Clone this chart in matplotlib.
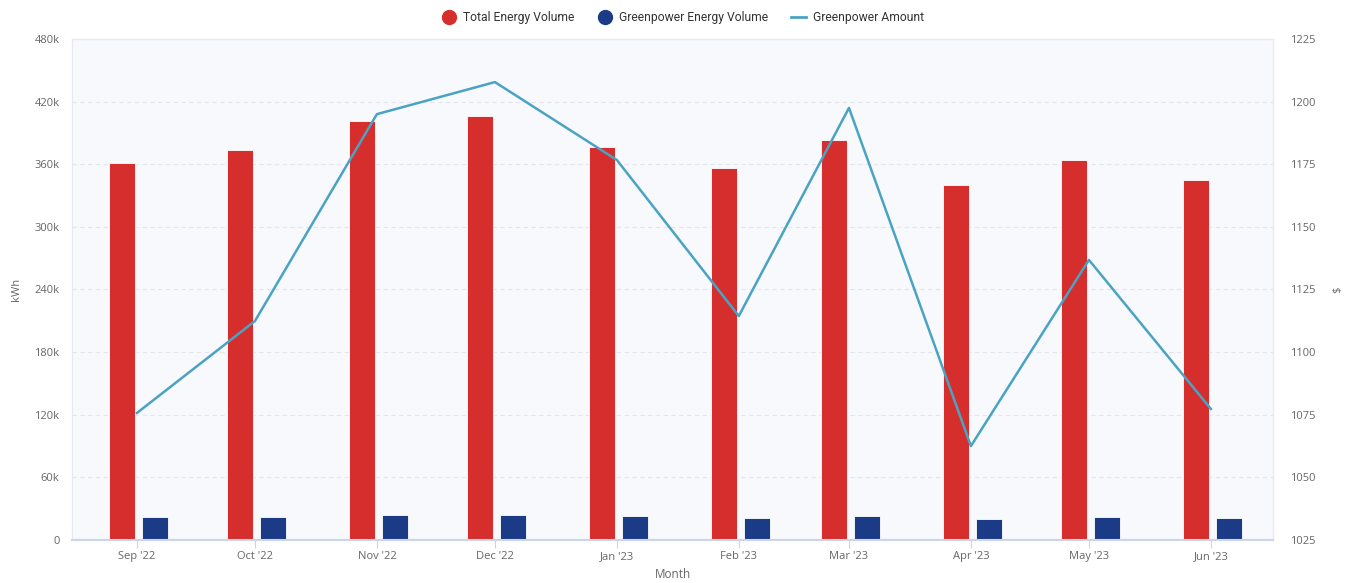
import matplotlib
matplotlib.use("Agg")
import matplotlib.pyplot as plt
import matplotlib.dates as mdates
from matplotlib.lines import Line2D
from matplotlib.ticker import FixedLocator, FuncFormatter
from datetime import date

plt.rcParams['font.family'] = ['Open Sans', 'DejaVu Sans']

# monthly readings
months = [date(2022, 9, 1), date(2022, 10, 1), date(2022, 11, 1), date(2022, 12, 1),
          date(2023, 1, 1), date(2023, 2, 1), date(2023, 3, 1), date(2023, 4, 1),
          date(2023, 5, 1), date(2023, 6, 1)]
month_labels = ["Sep '22", "Oct '22", "Nov '22", "Dec '22", "Jan '23",
                "Feb '23", "Mar '23", "Apr '23", "May '23", "Jun '23"]
total_kwh = [361000, 373500, 401000, 406000, 376500, 356000, 383000, 340000, 364000, 345000]
green_kwh = [22000, 22000, 24000, 24000, 23000, 21000, 23000, 20000, 22000, 21000]
green_amount = [1075.7, 1112.4, 1195.0, 1207.8, 1176.7, 1114.4, 1197.5, 1062.5, 1136.8, 1077.3]

red = '#d62d2d'
navy = '#1c3b87'
teal = '#4aa3c3'
txt = '#666666'

x = mdates.date2num(months)

fig = plt.figure(figsize=(13.51, 5.83), dpi=100)
ax = fig.add_axes([0.0533, 0.0738, 0.8890, 0.8593])
ax.set_facecolor('#f8f9fd')

bw = 6.6
ax.bar(x - 3.8, total_kwh, width=bw, color=red, edgecolor='white', linewidth=0.6, zorder=3)
ax.bar(x + 4.6, green_kwh, width=bw, color=navy, edgecolor='white', linewidth=0.6, zorder=3)

ax.set_ylim(0, 480000)
ax.yaxis.set_major_locator(FixedLocator(range(0, 480001, 60000)))
ax.yaxis.set_major_formatter(FuncFormatter(lambda v, p: '0' if v == 0 else '%dk' % (v / 1000)))
ax.grid(axis='y', color='#e3e6ee', linestyle=(0, (4, 3)), linewidth=0.8, zorder=0)
ax.set_xlim(x[0] - 16.5, x[-1] + 15.8)
ax.set_xticks(x)
ax.set_xticklabels(month_labels)

ax2 = ax.twinx()
ax2.plot(x, green_amount, color=teal, linewidth=1.8, zorder=4)
ax2.set_ylim(1025, 1225)
ax2.yaxis.set_major_locator(FixedLocator(range(1025, 1226, 25)))

for a in (ax, ax2):
    for s in a.spines.values():
        s.set_color('#e6e9f2')
        s.set_linewidth(0.8)
    a.spines['bottom'].set_color('#ccd6eb')
    a.spines['bottom'].set_linewidth(1.5)

ax.tick_params(axis='y', length=0, labelsize=8, labelcolor=txt, pad=9)
ax.tick_params(axis='x', length=6, color='#ccd6eb', labelsize=8, labelcolor=txt, pad=2)
ax2.tick_params(axis='y', length=0, labelsize=8, labelcolor=txt, pad=12)

ax.set_ylabel('kWh', color=txt, fontsize=8, labelpad=9)
ax2.set_ylabel('$', color=txt, fontsize=8, labelpad=12)
ax.set_xlabel('Month', color=txt, fontsize=8.5, labelpad=4)

handles = [
    Line2D([], [], marker='o', linestyle='none', color=red, markersize=10),
    Line2D([], [], marker='o', linestyle='none', color=navy, markersize=10),
    Line2D([], [], color=teal, linewidth=2),
]
fig.legend(handles, ['Total Energy Volume', 'Greenpower Energy Volume', 'Greenpower Amount'],
           loc='upper center', bbox_to_anchor=(0.505, 1.0), ncol=3, frameon=False,
           prop={'family': 'Roboto', 'size': 8.7}, labelcolor='#333333',
           handlelength=1.3, handletextpad=0.5, columnspacing=1.9)

fig.savefig('out.png', dpi=100, facecolor='white')
